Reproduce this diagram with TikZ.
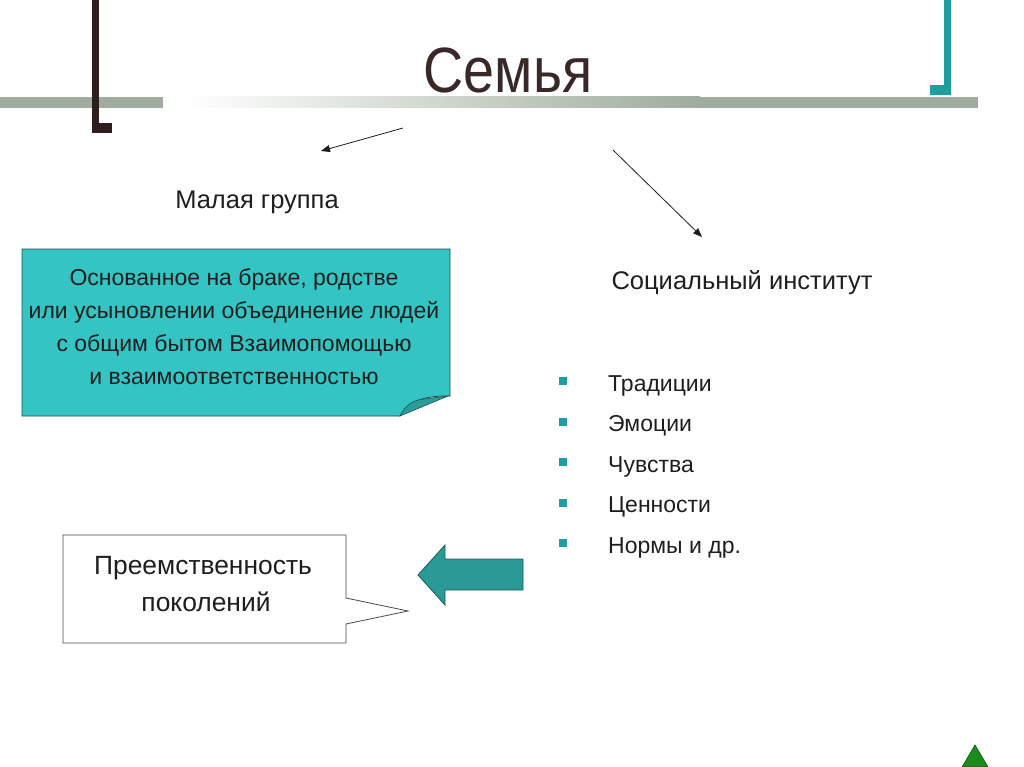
\documentclass[tikz,border=0pt]{standalone}
\usepackage{fontspec}
\setmainfont{Liberation Sans}
\newfontfamily\titlefont[FakeStretch=0.87]{Liberation Sans}
\usetikzlibrary{arrows.meta}
\definecolor{barcol}{HTML}{9FAC9F}
\definecolor{darkbar}{HTML}{2E1E1E}
\definecolor{tealbar}{HTML}{1E9E9E}
\definecolor{titlecol}{HTML}{3A2828}
\definecolor{boxfill}{HTML}{35C4C4}
\definecolor{boxedge}{HTML}{1E4E4E}
\definecolor{flapcol}{HTML}{2A9C9C}
\definecolor{arrowfill}{HTML}{2A9A96}
\definecolor{arrowedge}{HTML}{1F5A5A}
\definecolor{txt}{HTML}{1E1E1E}
\definecolor{greentri}{HTML}{1A8C1A}
\tikzset{
  label24/.style={font=\fontsize{25.5}{30}\selectfont, text=txt, inner sep=0pt, anchor=base},
  boxline/.style={font=\fontsize{23}{27}\selectfont, text=txt, inner sep=0pt, anchor=base},
  bullettext/.style={font=\fontsize{23}{27}\selectfont, text=txt, inner sep=0pt, anchor=base west},
  bulletsq/.style={fill=tealbar, draw=none, minimum size=8pt, inner sep=0pt},
  calltext/.style={font=\fontsize{26.4}{31}\selectfont, text=txt, inner sep=0pt, anchor=base},
  thinarrow/.style={draw=txt, line width=0.8pt, -{Triangle[length=9pt,width=7pt]}}
}
\begin{document}
\begin{tikzpicture}[x=1pt,y=-1pt]
\useasboundingbox (0,0) rectangle (1024,767);
\fill[white] (0,0) rectangle (1024,767);
% header bars
\fill[barcol] (0,97) rectangle (163,108);
\shade[left color=white, right color=barcol] (186,97) rectangle (700,108);
\fill[barcol] (699,97) rectangle (978,108);
\fill[darkbar] (92,0) rectangle (99,133);
\fill[darkbar] (92,123) rectangle (112,133);
\fill[tealbar] (944,0) rectangle (951,95);
\fill[tealbar] (930,85) rectangle (951,95);
% title
\node[font=\titlefont\fontsize{64}{70}\selectfont, text=titlecol, inner sep=0pt, anchor=base] (title) at (508,93) {Семья};
% arrows
\coordinate (a1s) at (403,128);
\coordinate (a1e) at (321,151);
\coordinate (a2s) at (613,150);
\coordinate (a2e) at (702,237);
\draw[thinarrow] (a1s) -- (a1e);
\draw[thinarrow] (a2s) -- (a2e);
% labels
\node[label24] (small) at (257,209) {Малая группа};
\node[label24] (inst) at (742,289) {Социальный институт};
% teal box
\path[fill=boxfill, draw=boxedge, line width=0.8pt] (22,249) coordinate (boxnw) -- (450,249) -- (450,396) -- (448,396)
  .. controls (425,396) and (410,400) .. (400,416) -- (22,416) -- cycle;
\path[fill=flapcol, draw=boxedge, line width=0.6pt] (400,416) .. controls (406,404) and (414,400) .. (424,399)
  .. controls (432,398) and (440,397) .. (448,396) -- cycle;
\node[boxline] (b1) at (234,285) {Основанное на браке, родстве};
\node[boxline] (b2) at (234,318) {или усыновлении объединение людей};
\node[boxline] (b3) at (234,351) {с общим бытом Взаимопомощью};
\node[boxline] (b4) at (234,384) {и взаимоответственностью};
% bullet list
\foreach \t [count=\i from 0] in {Традиции,Эмоции,Чувства,Ценности,Нормы и др.}{
  \node[bulletsq] (sq\i) at (563,{381+40.5*\i}) {};
  \node[bullettext] (li\i) at (608,{391+40.5*\i}) {\t};
}
% callout
\path[fill=white, draw=txt!80, line width=0.8pt] (63,535) -- (346,535) -- (346,598) -- (408,611) -- (346,624) -- (346,643) -- (63,643) -- cycle;
\node[calltext] (c1) at (203,574) {Преемственность};
\node[calltext] (c2) at (206,611) {поколений};
% block arrow
\path[fill=arrowfill, draw=arrowedge, line width=0.8pt] (418,575) -- (445,545) -- (445,559) -- (523,559) -- (523,590) -- (445,590) -- (445,605) -- cycle;
% green triangle
\path[fill=greentri, draw=greentri!60!black, line width=0.6pt] (975,745) -- (988,767) -- (962,767) -- cycle;
\end{tikzpicture}
\end{document}
